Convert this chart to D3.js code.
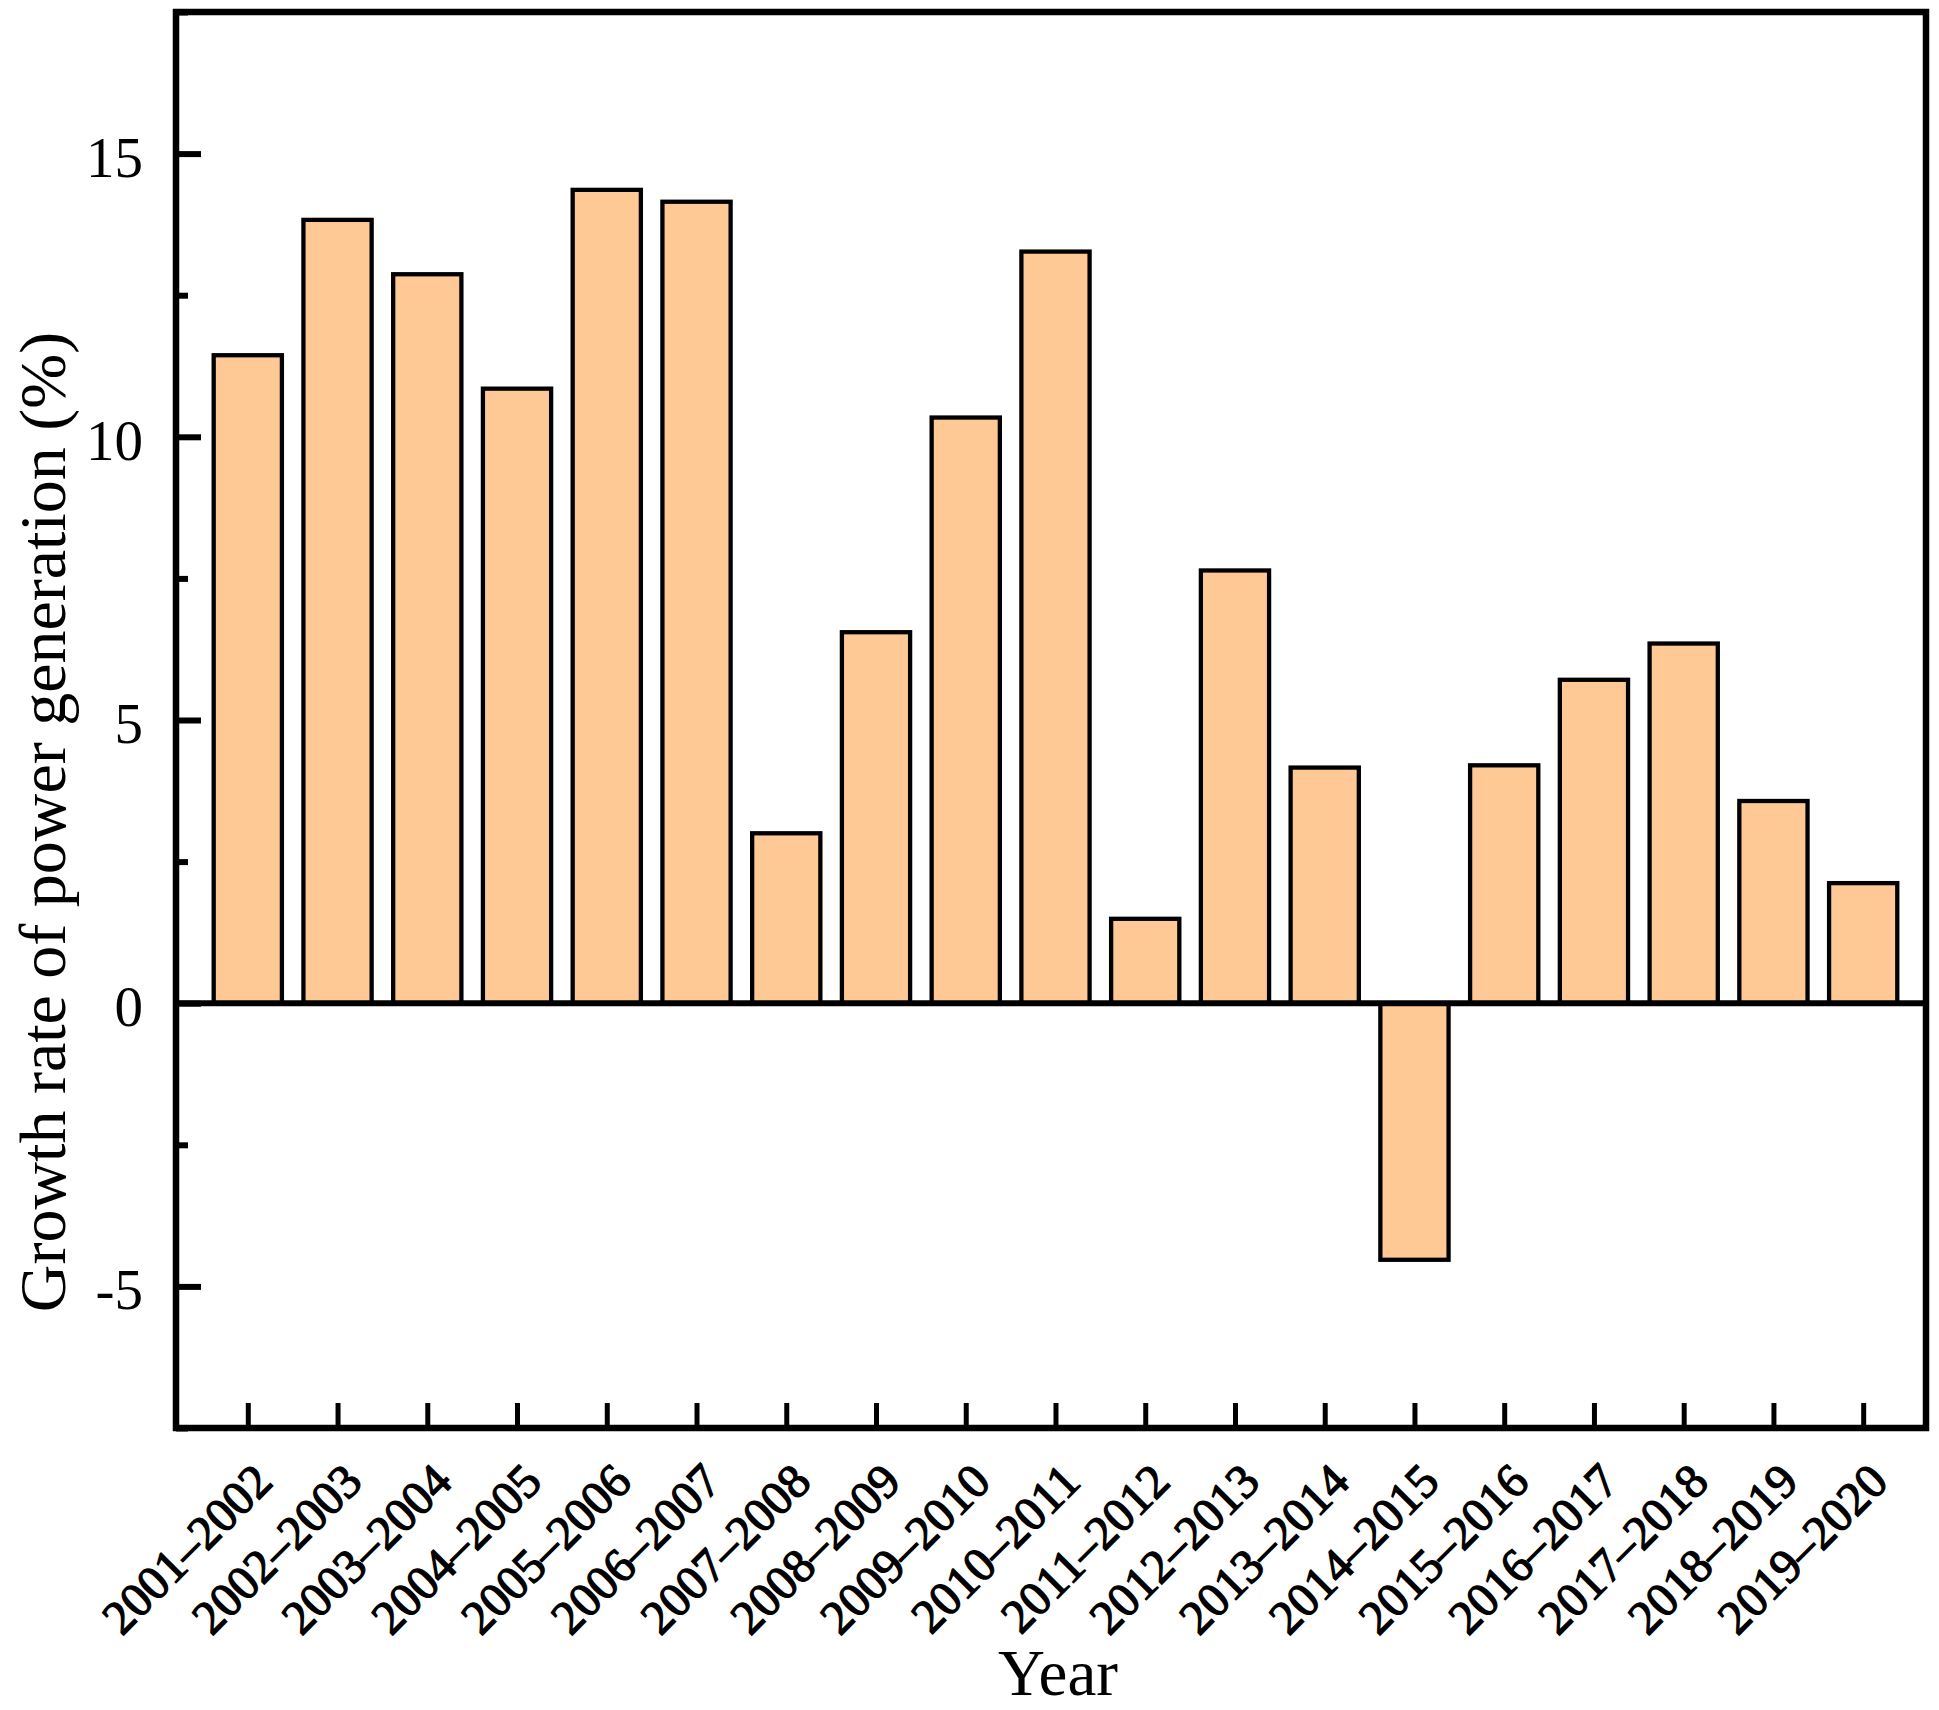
<!DOCTYPE html>
<html>
<head>
<meta charset="utf-8">
<script src="https://cdn.jsdelivr.net/npm/d3@7"></script>
<style>
  html, body { margin: 0; padding: 0; background: #ffffff; }
  svg { display: block; }
</style>
</head>
<body>
<svg id="chart" width="1939" height="1710"></svg>
<script>
const categories = ["2001\u20132002","2002\u20132003","2003\u20132004","2004\u20132005","2005\u20132006","2006\u20132007","2007\u20132008","2008\u20132009","2009\u20132010","2010\u20132011","2011\u20132012","2012\u20132013","2013\u20132014","2014\u20132015","2015\u20132016","2016\u20132017","2017\u20132018","2018\u20132019","2019\u20132020"];
const growthRate = [11.44, 13.83, 12.87, 10.85, 14.36, 14.15, 3.00, 6.55, 10.34, 13.27, 1.49, 7.64, 4.16, -4.53, 4.20, 5.71, 6.35, 3.57, 2.12];
const yMajorTicks = [-5, 0, 5, 10, 15];
const yMinorTicks = [-7.5, -2.5, 2.5, 7.5, 12.5, 17.5];
const yTickLabels = ["-5", "0", "5", "10", "15"];
const xTitle = "Year";
const yTitle = "Growth rate of power generation (%)";

const svg = d3.select("#chart");
const pLeft = 176, pRight = 1926, pTop = 12, pBottom = 1428;
const serif = "'Liberation Serif', 'Times New Roman', serif";

const x = d3.scaleLinear().domain([0.2, 19.7]).range([pLeft, pRight]);
const y = d3.scaleLinear().domain([-7.5, 17.5]).range([pBottom, pTop]);
const barW = 0.76;

// bars
svg.append("g").selectAll("rect")
  .data(growthRate)
  .join("rect")
  .attr("x", (d, i) => x(i + 1 - barW / 2))
  .attr("width", x(barW) - x(0))
  .attr("y", d => y(Math.max(0, d)))
  .attr("height", d => Math.abs(y(d) - y(0)))
  .attr("fill", "#FFC995")
  .attr("stroke", "#000")
  .attr("stroke-width", 4.3);

// zero line
svg.append("line")
  .attr("x1", pLeft).attr("x2", pRight)
  .attr("y1", y(0)).attr("y2", y(0))
  .attr("stroke", "#000").attr("stroke-width", 6);

// y axis ticks (inward)
const yAxisMajor = d3.axisRight(y).tickValues(yMajorTicks).tickSize(25).tickFormat("");
const gyM = svg.append("g").attr("transform", `translate(${pLeft},0)`).call(yAxisMajor);
gyM.select(".domain").remove();
gyM.selectAll(".tick line").attr("stroke", "#000").attr("stroke-width", 6);

const yAxisMinor = d3.axisRight(y).tickValues(yMinorTicks).tickSize(12).tickFormat("");
const gym = svg.append("g").attr("transform", `translate(${pLeft},0)`).call(yAxisMinor);
gym.select(".domain").remove();
gym.selectAll(".tick line").attr("stroke", "#000").attr("stroke-width", 6);

// y tick labels
svg.append("g").selectAll("text")
  .data(yMajorTicks)
  .join("text")
  .attr("x", pLeft - 33)
  .attr("y", d => y(d) + 23)
  .attr("text-anchor", "end")
  .attr("font-family", serif)
  .attr("font-size", 57)
  .attr("fill", "#000")
  .text((d, i) => yTickLabels[i]);

// x axis ticks (inward)
const xTicks = categories.map((c, i) => i + 1);
const xAxis = d3.axisTop(x).tickValues(xTicks).tickSize(25).tickFormat("");
const gx = svg.append("g").attr("transform", `translate(0,${pBottom})`).call(xAxis);
gx.select(".domain").remove();
gx.selectAll(".tick line").attr("stroke", "#000").attr("stroke-width", 5);

// x tick labels rotated
svg.append("g").selectAll("text")
  .data(categories)
  .join("text")
  .attr("transform", (d, i) => `translate(${x(i + 1) + 27},${pBottom + 56}) rotate(-45)`)
  .attr("text-anchor", "end")
  .attr("font-family", serif)
  .attr("font-size", 48)
  .attr("fill", "#000")
  .attr("stroke", "#000")
  .attr("stroke-width", 1.3)
  .text(d => d);

// frame
svg.append("rect")
  .attr("x", pLeft).attr("y", pTop)
  .attr("width", pRight - pLeft).attr("height", pBottom - pTop)
  .attr("fill", "none")
  .attr("stroke", "#000")
  .attr("stroke-width", 6.5);

// titles
svg.append("text")
  .attr("x", 1058).attr("y", 1695)
  .attr("text-anchor", "middle")
  .attr("font-family", serif)
  .attr("font-size", 65)
  .attr("fill", "#000")
  .text(xTitle);

svg.append("text")
  .attr("transform", "translate(65,822) rotate(-90)")
  .attr("text-anchor", "middle")
  .attr("font-family", serif)
  .attr("font-size", 66)
  .attr("fill", "#000")
  .text(yTitle);
</script>
</body>
</html>
